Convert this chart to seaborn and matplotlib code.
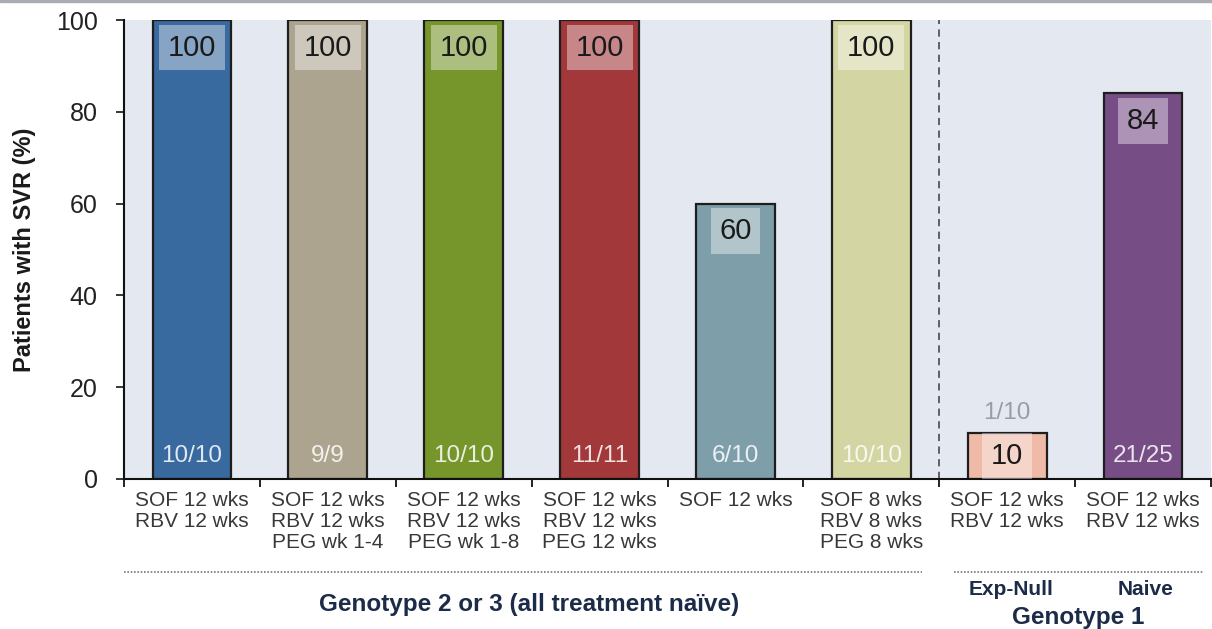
import pandas as pd
import matplotlib.pyplot as plt
import seaborn as sns
from matplotlib.patches import Rectangle

# Data: SVR rates per treatment arm
arms = ["SOF 12 wks\nRBV 12 wks",
        "SOF 12 wks\nRBV 12 wks\nPEG wk 1-4",
        "SOF 12 wks\nRBV 12 wks\nPEG wk 1-8",
        "SOF 12 wks\nRBV 12 wks\nPEG 12 wks",
        "SOF 12 wks",
        "SOF 8 wks\nRBV 8 wks\nPEG 8 wks",
        "SOF 12 wks\nRBV 12 wks",
        "SOF 12 wks\nRBV 12 wks"]
svr = [100, 100, 100, 100, 60, 100, 10, 84]
counts = ["10/10", "9/9", "10/10", "11/11", "6/10", "10/10", "1/10", "21/25"]
bar_colors = ["#38699f", "#aca48f", "#76962b", "#a2383a",
              "#7e9faa", "#d3d6a2", "#efbaa8", "#774d86"]

df = pd.DataFrame({"arm": range(len(svr)), "svr": svr})

sns.set_theme(style="white")
plt.rcParams["font.family"] = ["Liberation Sans", "DejaVu Sans"]

fig = plt.figure(figsize=(12.12, 6.29), dpi=100)
ax = fig.add_axes([124 / 1212, 1 - 479 / 629, 1087 / 1212, 459 / 629])
ax.set_facecolor("#e4e9f1")

sns.barplot(data=df, x="arm", y="svr", hue="arm", palette=bar_colors,
            legend=False, width=0.58, saturation=1, edgecolor="#1e1e1e",
            linewidth=1.6, ax=ax)

ax.set_xlim(-0.5, 7.5)
ax.set_ylim(0, 100)

# value labels inside bars (top) and n/N at bottom
for i, (v, c) in enumerate(zip(svr, counts)):
    off = 6 if v > 20 else 5
    ax.text(i, v - off, str(v), ha="center", va="center", fontsize=21,
            color="#1a1a1a",
            bbox=dict(boxstyle="square,pad=0.3", facecolor="white",
                      alpha=0.4, edgecolor="none"))
    if v > 20:
        ax.text(i, 5, c, ha="center", va="center", fontsize=17.5,
                color="white", alpha=0.85)
    else:
        ax.text(i, v + 4.3, c, ha="center", va="center", fontsize=17.5,
                color="#9a9ea3")

# dashed separator between genotype groups
ax.axvline(5.5, color="#555555", linestyle=(0, (4, 3)), linewidth=1.3)

# axes styling
for s in ["top", "right"]:
    ax.spines[s].set_visible(False)
for s in ["left", "bottom"]:
    ax.spines[s].set_color("#111111")
    ax.spines[s].set_linewidth(1.5)

ax.set_yticks([0, 20, 40, 60, 80, 100])
ax.tick_params(axis="y", which="major", left=True, length=6, width=1.3,
               labelsize=18, labelcolor="#222222", pad=13)
ax.set_xticks(range(len(arms)), labels=arms)
ax.set_xticks([i - 0.5 for i in range(len(arms) + 1)], minor=True)
ax.tick_params(axis="x", which="major", length=0, labelsize=15,
               labelcolor="#383838", pad=9)
ax.tick_params(axis="x", which="minor", bottom=True, length=6, width=1.3,
               color="#111111")
for lbl in ax.get_xticklabels():
    lbl.set_verticalalignment("top")
    lbl.set_linespacing(1.1)

ax.set_xlabel("")
ax.set_ylabel("Patients with SVR (%)", fontsize=17, fontweight="bold",
              color="#1a1a1a", labelpad=14)

# group brackets and labels under the axis
tr = ax.get_xaxis_transform()
ax.plot([-0.5, 5.37], [-0.202, -0.202], transform=tr, clip_on=False,
        color="#777777", linestyle=(0, (1, 1)), linewidth=1.2)
ax.plot([5.61, 7.45], [-0.202, -0.202], transform=tr, clip_on=False,
        color="#777777", linestyle=(0, (1, 1)), linewidth=1.2)
navy = "#1c2b48"
ax.text(2.48, -0.274, "Genotype 2 or 3 (all treatment naïve)", transform=tr,
        ha="center", va="center", fontsize=17.5, fontweight="bold", color=navy)
ax.text(6.03, -0.241, "Exp-Null", transform=tr, ha="center", va="center",
        fontsize=15, fontweight="bold", color=navy)
ax.text(7.02, -0.241, "Naive", transform=tr, ha="center", va="center",
        fontsize=15, fontweight="bold", color=navy)
ax.text(6.52, -0.302, "Genotype 1", transform=tr, ha="center", va="center",
        fontsize=17.5, fontweight="bold", color=navy)

# thin grey line across the very top of the slide
fig.add_artist(Rectangle((0, 1 - 2 / 629), 1, 2 / 629, transform=fig.transFigure,
                         color="#a9adb3"))

fig.savefig("out.png", dpi=100)
